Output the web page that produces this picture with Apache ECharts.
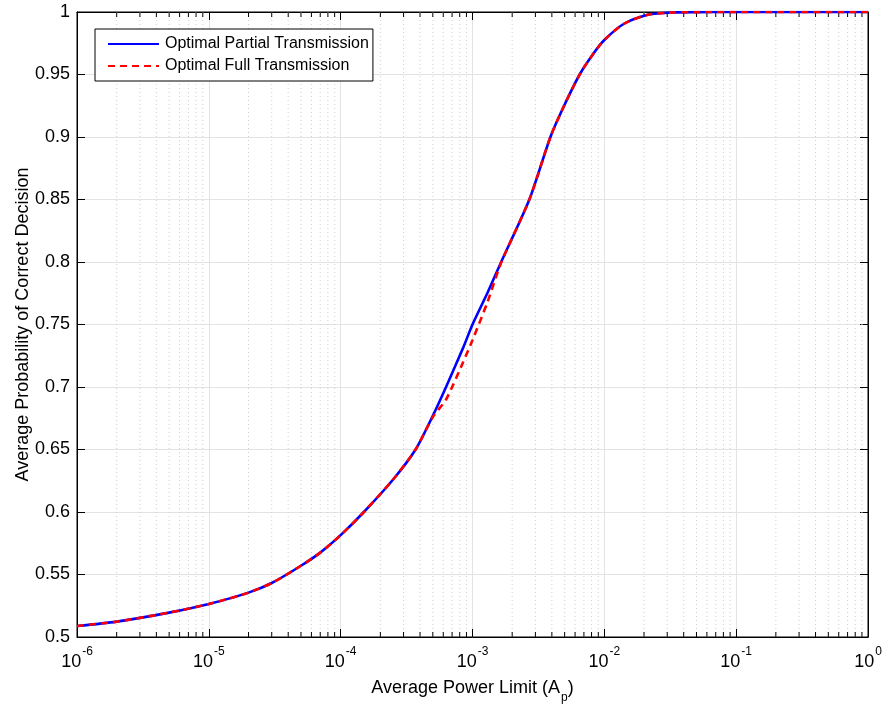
<!DOCTYPE html>
<html>
<head>
<meta charset="utf-8">
<script src="https://cdn.jsdelivr.net/npm/echarts@6/dist/echarts.min.js"></script>
<style>
html, body { margin: 0; padding: 0; background: #fff; }
#chart { width: 883px; height: 705px; }
</style>
</head>
<body>
<div id="chart"></div>
<script>
// average power limit A_p (log axis)
const powerLimit = [1e-6, 2e-6, 5e-6, 1e-5, 2e-5, 3e-5, 5e-5, 7e-5, 1e-4, 1.5e-4, 2.5e-4, 3.7e-4, 5e-4,
  6.3e-4, 8.5e-4, 1e-3, 1.3e-3, 1.65e-3, 2.7e-3, 3.9e-3, 4.9e-3, 6.5e-3, 8.3e-3, 1e-2, 1.4e-2, 2.1e-2, 3e-2, 5e-2, 1e-1, 1]
const partialTx = [0.5088, 0.5123, 0.5195, 0.5264, 0.5355, 0.5432, 0.557, 0.5675, 0.5815, 0.6, 0.626, 0.65, 0.677,
  0.70, 0.7315, 0.75, 0.7754, 0.8, 0.85, 0.9, 0.924, 0.95, 0.967, 0.9776, 0.9904, 0.9976, 0.9994, 0.9999, 1, 1]
const fullTx = [0.5088, 0.5123, 0.5195, 0.5264, 0.5355, 0.5432, 0.557, 0.5675, 0.5815, 0.6, 0.626, 0.65, 0.676,
  0.690, 0.720, 0.7375, 0.768, 0.7995, 0.85, 0.9, 0.924, 0.95, 0.967, 0.9776, 0.9904, 0.9976, 0.9994, 0.9999, 1, 1]
const seriesNames = ['Optimal Partial Transmission', 'Optimal Full Transmission']

// minor ticks 2..9 of each decade
let minorTicks = []
for (let d = -6; d < 0; d++) {
  for (let k = 2; k <= 9; k++) minorTicks.push(k * Math.pow(10, d))
}

const font = 'Liberation Sans, Arial, Helvetica, sans-serif'
let chart = echarts.init(document.getElementById('chart'))

let logAxis = {
  type: 'log',
  logBase: 10,
  min: 1e-6,
  max: 1,
  splitNumber: 6
}

let option = {
  backgroundColor: '#fff',
  animation: false,
  grid: {
    left: 77,
    right: 15,
    top: 12,
    bottom: 68,
    outerBoundsMode: 'none',
    show: true,
    borderColor: '#000',
    borderWidth: 1
  },
  legend: {
    data: seriesNames,
    orient: 'vertical',
    left: 95,
    top: 29,
    padding: [7, 4, 7, 12],
    itemGap: 6,
    itemWidth: 51,
    itemHeight: 15,
    itemStyle: { opacity: 0 },
    backgroundColor: '#fff',
    borderColor: '#000',
    borderWidth: 1,
    borderRadius: 0,
    textStyle: { fontFamily: font, fontSize: 16, color: '#000', padding: [0, 0, 0, 1] }
  },
  xAxis: [
    Object.assign({}, logAxis, {
      position: 'bottom',
      name: '{n|Average Power Limit (A}{sub|p}{n|)}',
      nameLocation: 'middle',
      nameGap: 42,
      nameTextStyle: {
        rich: {
          n: { fontFamily: font, fontSize: 18, color: '#000', lineHeight: 22, verticalAlign: 'top' },
          sub: { fontFamily: font, fontSize: 12, color: '#000', padding: [13, 0, 0, 1], verticalAlign: 'top' }
        }
      },
      axisLine: { onZero: false, lineStyle: { color: '#000' } },
      axisTick: { inside: true, length: 8, lineStyle: { color: '#000' } },
      axisLabel: {
        margin: 9,
        formatter: function (v) {
          return '{b|10}{s|' + Math.round(Math.log10(v)) + '}'
        },
        rich: {
          b: { fontFamily: font, fontSize: 18, color: '#000', padding: [7, 0, 0, 0], verticalAlign: 'top' },
          s: { fontFamily: font, fontSize: 12, color: '#000', padding: [0, 0, 0, 1], verticalAlign: 'top' }
        }
      },
      splitLine: { show: true, lineStyle: { color: '#e3e3e3', width: 1 } }
    }),
    Object.assign({}, logAxis, {
      position: 'top',
      axisLine: { lineStyle: { color: '#000' } },
      axisTick: { inside: true, length: 8, lineStyle: { color: '#000' } },
      axisLabel: { show: false },
      splitLine: { show: false }
    })
  ],
  yAxis: [
    {
      type: 'value',
      min: 0.5,
      max: 1,
      interval: 0.05,
      name: 'Average Probability of Correct Decision',
      nameLocation: 'middle',
      nameGap: 45,
      nameMoveOverlap: false,
      nameTextStyle: { fontFamily: font, fontSize: 18, color: '#000' },
      axisLine: { show: true, lineStyle: { color: '#000' } },
      axisTick: { show: true, inside: true, length: 8, lineStyle: { color: '#000' } },
      axisLabel: {
        fontFamily: font,
        fontSize: 18,
        color: '#000',
        margin: 7,
        formatter: function (v) {
          return String(parseFloat(v.toFixed(2)))
        }
      },
      splitLine: { show: true, lineStyle: { color: '#e3e3e3', width: 1 } }
    },
    {
      type: 'value',
      min: 0.5,
      max: 1,
      interval: 0.05,
      position: 'right',
      axisLine: { show: true, lineStyle: { color: '#000' } },
      axisTick: { show: true, inside: true, length: 8, lineStyle: { color: '#000' } },
      axisLabel: { show: false },
      splitLine: { show: false }
    }
  ],
  series: [
    {
      // minor ticks on bottom and top plus dotted minor grid
      type: 'custom',
      silent: true,
      z: 1,
      data: minorTicks,
      renderItem: function (params, api) {
        let v = api.value(0)
        let b = api.coord([v, 0.5])
        let t = api.coord([v, 1])
        return {
          type: 'group',
          children: [
            {
              type: 'line',
              shape: { x1: b[0], y1: b[1], x2: t[0], y2: t[1] },
              style: { stroke: '#cfcfcf', lineWidth: 1, lineDash: [1, 3] }
            },
            {
              type: 'line',
              shape: { x1: b[0], y1: b[1], x2: b[0], y2: b[1] - 5 },
              style: { stroke: '#000', lineWidth: 1 }
            },
            {
              type: 'line',
              shape: { x1: t[0], y1: t[1], x2: t[0], y2: t[1] + 5 },
              style: { stroke: '#000', lineWidth: 1 }
            }
          ]
        }
      },
      encode: { x: 0 }
    },
    {
      name: seriesNames[0],
      type: 'line',
      z: 3,
      symbol: 'none',
      smooth: 0.25,
      itemStyle: { color: '#0000ff' },
      lineStyle: { color: '#0000ff', width: 2.6 },
      data: powerLimit.map((x, i) => [x, partialTx[i]])
    },
    {
      name: seriesNames[1],
      type: 'line',
      z: 4,
      symbol: 'none',
      smooth: 0.25,
      itemStyle: { color: '#ff0000' },
      lineStyle: { color: '#ff0000', width: 2.6, type: [7, 5] },
      data: powerLimit.map((x, i) => [x, fullTx[i]])
    }
  ]
}
chart.setOption(option)
</script>
</body>
</html>
